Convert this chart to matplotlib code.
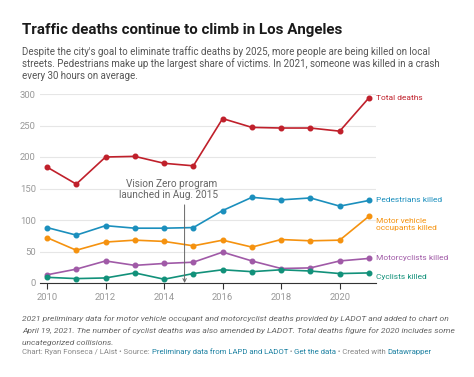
import matplotlib
matplotlib.use("Agg")
import matplotlib.pyplot as plt

years = [2010, 2011, 2012, 2013, 2014, 2015, 2016, 2017, 2018, 2019, 2020, 2021]
total = [184, 157, 200, 201, 190, 186, 261, 247, 246, 246, 241, 294]
pedestrians = [88, 76, 91, 87, 87, 88, 115, 136, 132, 135, 122, 131]
motor_vehicle = [72, 52, 65, 68, 66, 59, 68, 57, 69, 67, 68, 106]
motorcyclists = [13, 22, 35, 28, 31, 33, 49, 35, 23, 24, 35, 39]
cyclists = [9, 7, 8, 16, 6, 15, 21, 18, 21, 19, 15, 16]

series_names = ["Total deaths", "Pedestrians killed", "Motor vehicle\noccupants killed",
                "Motorcyclists killed", "Cyclists killed"]
series_values = [total, pedestrians, motor_vehicle, motorcyclists, cyclists]
series_colors = ["#c0202b", "#1b8fbd", "#f5920f", "#a05aa7", "#12917a"]
label_offsets = [0, 0, -6, 0, -3]  # pt shift of right-side labels

x_ticks = [2010, 2012, 2014, 2016, 2018, 2020]
y_ticks = [0, 50, 100, 150, 200, 250, 300]

plt.rcParams['font.family'] = ['Roboto', 'DejaVu Sans']

W, H = 474, 377
fig = plt.figure(figsize=(W / 100, H / 100), dpi=100)
fig.patch.set_facecolor("white")


def px(x, y):
    return x / W, 1 - y / H


ax_l, ax_r, ax_t, ax_b = 40, 376, 94, 283
ax = fig.add_axes([ax_l / W, 1 - ax_b / H, (ax_r - ax_l) / W, (ax_b - ax_t) / H])
ax.set_xlim(2010 - 7 / 29.2, 2021 + 7 / 29.2)
ax.set_ylim(0, 300)
for s in ax.spines.values():
    s.set_visible(False)
ax.spines['bottom'].set_visible(True)
ax.spines['bottom'].set_color("#333333")
ax.spines['bottom'].set_linewidth(0.8)
ax.set_yticks(y_ticks)
ax.set_yticklabels([str(v) for v in y_ticks])
ax.tick_params(axis='y', length=0, labelsize=6.8, labelcolor="#999999", pad=3)
ax.set_xticks(x_ticks)
ax.set_xticklabels([str(v) for v in x_ticks])
ax.tick_params(axis='x', length=4, width=0.8, color="#333333", labelsize=6.8,
               labelcolor="#999999", pad=3)
ax.grid(axis='y', color="#e6e6e6", linewidth=0.8)
ax.set_axisbelow(True)

for name, vals, col, off in zip(series_names, series_values, series_colors, label_offsets):
    ax.plot(years, vals, color=col, linewidth=1.2, marker='o', markersize=3.3,
            clip_on=False, zorder=3)
    ax.annotate(name, xy=(years[-1], vals[-1]), xytext=(5, off), textcoords='offset points',
                color=col, fontsize=6.0, va='center', ha='left', linespacing=1.35,
                annotation_clip=False)

# Vision Zero annotation
xa = 2014.7
ax.annotate("", xy=(xa, 0), xytext=(xa, 124),
            arrowprops=dict(arrowstyle="->", color="#666666", lw=0.7, shrinkA=0, shrinkB=0,
                            mutation_scale=6))
ax.text(xa + 1.13, 131, "Vision Zero program\nlaunched in Aug. 2015", ha='right', va='bottom',
        fontsize=7.2, color="#666666", linespacing=1.15)

# Title and subtitle
fig.text(*px(22, 30), "Traffic deaths continue to climb in Los Angeles", fontsize=10.9,
         fontweight='bold', color="#1a1a1a", va='center', ha='left')
sub = ["Despite the city's goal to eliminate traffic deaths by 2025, more people are being killed on local",
       "streets. Pedestrians make up the largest share of victims. In 2021, someone was killed in a crash",
       "every 30 hours on average."]
for i, line in enumerate(sub):
    fig.text(*px(22, 52 + 12 * i), line, fontsize=7.05, color="#555555", va='center', ha='left')

notes = ["2021 preliminary data for motor vehicle occupant and motorcyclist deaths provided by LADOT and added to chart on",
         "April 19, 2021. The number of cyclist deaths was also amended by LADOT. Total deaths figure for 2020 includes some",
         "uncategorized collisions."]
for i, line in enumerate(notes):
    fig.text(*px(22, 319 + 12 * i), line, fontsize=6.1, color="#666666", style='italic',
             va='center', ha='left')

parts = [("Chart: Ryan Fonseca / LAist \u2022 Source: ", "#888888"),
         ("Preliminary data from LAPD and LADOT", "#1d81a2"),
         (" \u2022 ", "#888888"),
         ("Get the data", "#1d81a2"),
         (" \u2022 Created with ", "#888888"),
         ("Datawrapper", "#1d81a2")]
renderer = fig.canvas.get_renderer()
x0 = 22
for txt, col in parts:
    t = fig.text(*px(x0, 352), txt, fontsize=5.55, color=col, va='center', ha='left')
    bb = t.get_window_extent(renderer=renderer)
    x0 += bb.width

fig.savefig("out.png", dpi=100, facecolor="white")
